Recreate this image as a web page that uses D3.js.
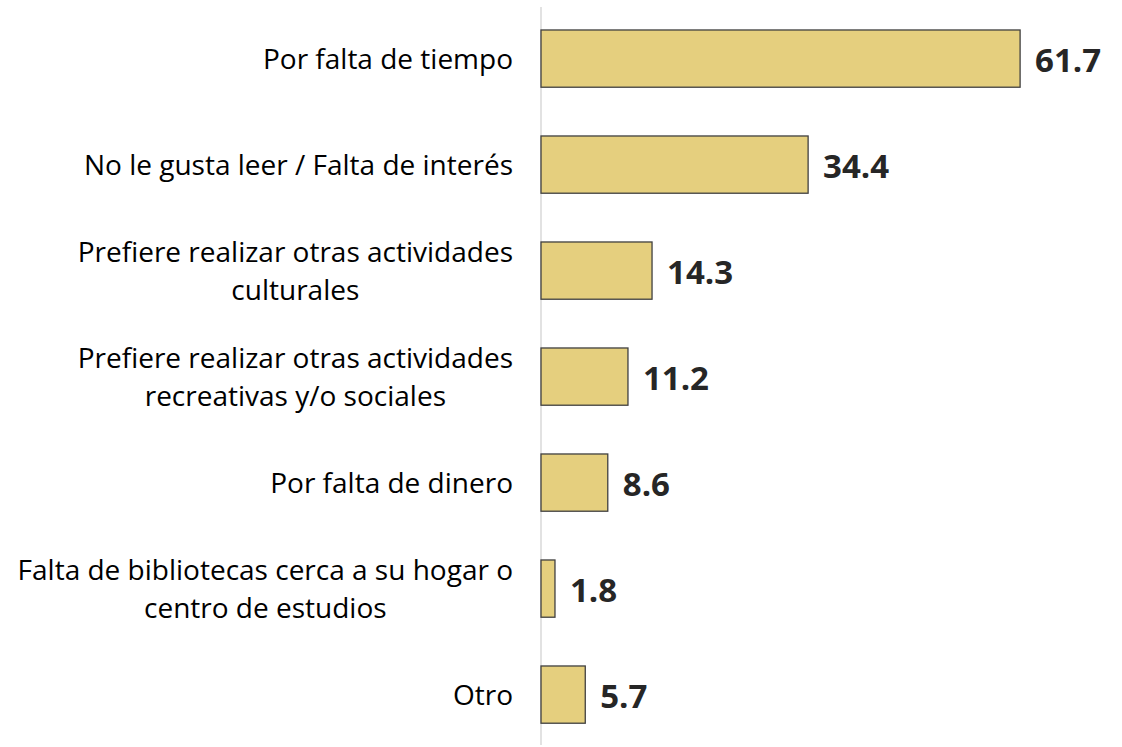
<!DOCTYPE html>
<html><head><meta charset="utf-8">
<script src="https://cdn.jsdelivr.net/npm/d3@7"></script>
<style>body{margin:0;background:#fff}</style>
</head><body><svg id="c" width="1122" height="747"></svg>
<script>
const categories = [
  ["Por falta de tiempo"],
  ["No le gusta leer / Falta de interés"],
  ["Prefiere realizar otras actividades", "culturales"],
  ["Prefiere realizar otras actividades", "recreativas y/o sociales"],
  ["Por falta de dinero"],
  ["Falta de bibliotecas cerca a su hogar o", "centro de estudios"],
  ["Otro"]
];
const values = [61.7, 34.4, 14.3, 11.2, 8.6, 1.8, 5.7];
const valueLabels = ["61.7", "34.4", "14.3", "11.2", "8.6", "1.8", "5.7"];

const svg = d3.select("#c");
const x0 = 541;
const x = d3.scaleLinear().domain([0, 70]).range([x0, x0 + 70 * 7.765]);
const y = d3.scaleBand().domain(d3.range(values.length)).range([5.6, 747.6])
  .paddingInner(0.46).paddingOuter(0.23);

svg.append("line").attr("x1", x0).attr("x2", x0).attr("y1", 7).attr("y2", 745)
  .attr("stroke", "#d9d9d9").attr("stroke-width", 1.5);

svg.selectAll("rect.bar").data(values).join("rect").attr("class", "bar")
  .attr("x", x(0)).attr("y", (d, i) => y(i))
  .attr("width", d => x(d) - x(0)).attr("height", y.bandwidth())
  .attr("fill", "#E5CF7E").attr("stroke", "#404040").attr("stroke-width", 1.3);

svg.selectAll("text.val").data(values).join("text").attr("class", "val")
  .attr("x", d => x(d) + 15).attr("y", (d, i) => y(i) + y.bandwidth() / 2 + 1)
  .attr("dominant-baseline", "central")
  .attr("font-family", "'Open Sans', sans-serif").attr("font-weight", 700)
  .attr("font-size", 33).attr("fill", "#262626")
  .text((d, i) => valueLabels[i]);

const lh = 38;
const labelRight = 513;
categories.forEach((lines, i) => {
  const cy = y(i) + y.bandwidth() / 2 + 10;
  const g = svg.append("text")
    .attr("font-family", "'Open Sans', sans-serif").attr("font-size", 28).attr("fill", "#000");
  const n = lines.length;
  lines.forEach((t, j) => {
    g.append("tspan").attr("y", cy + (j - (n - 1) / 2) * lh).text(t);
  });
  const widths = [];
  g.selectAll("tspan").each(function () { widths.push(this.getComputedTextLength()); });
  const maxW = d3.max(widths);
  g.selectAll("tspan").attr("x", labelRight - maxW / 2).attr("text-anchor", "middle");
});
</script></body></html>
